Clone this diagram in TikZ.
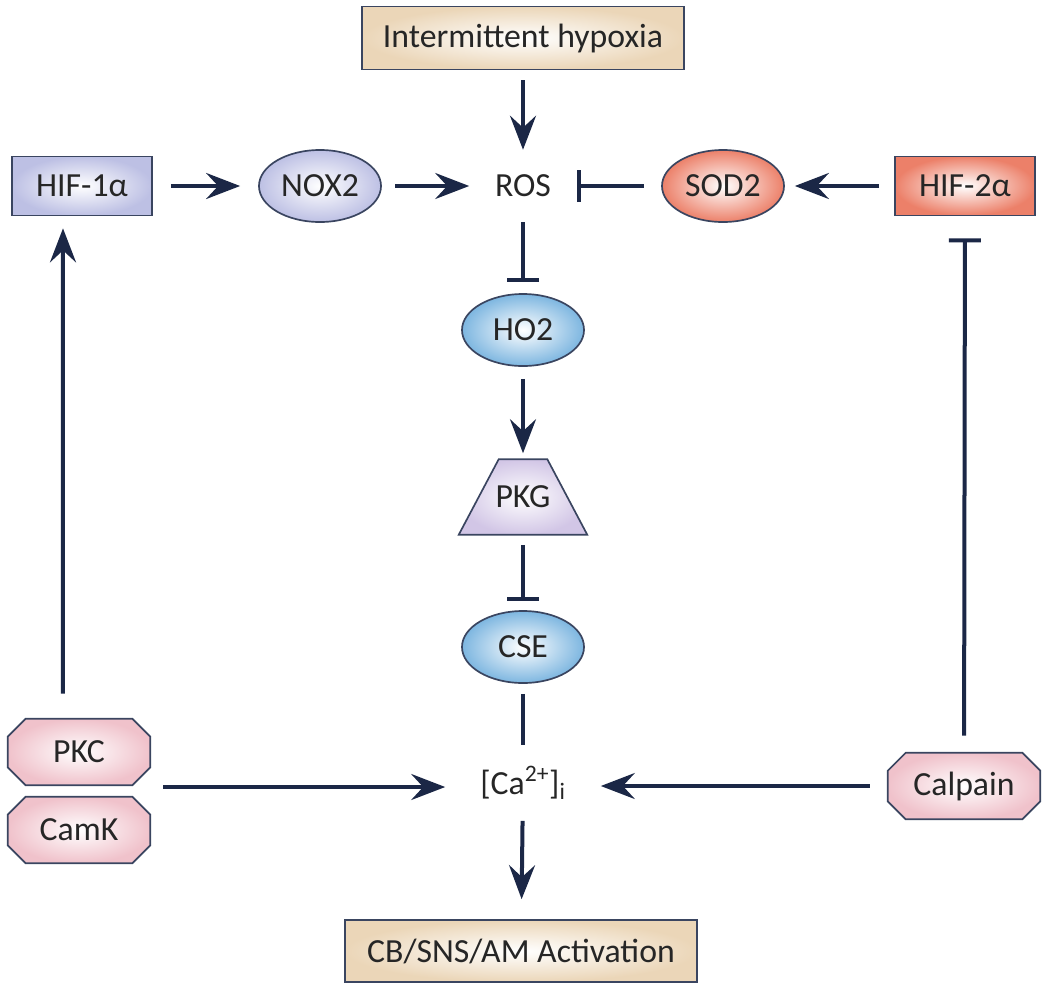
\documentclass[tikz,border=0pt]{standalone}
\usepackage{fontspec}
\setmainfont{Carlito}
\usetikzlibrary{arrows.meta,shapes.geometric}
\pgfdeclarelayer{background}
\pgfsetlayers{background,main}
\definecolor{navy}{HTML}{1B2746}
\definecolor{edge}{HTML}{3A4560}
\definecolor{tanC}{HTML}{EBD6B8}
\definecolor{hifB}{HTML}{BDC0E4}
\definecolor{salmon}{HTML}{EC8069}
\definecolor{skyB}{HTML}{7DB6E0}
\definecolor{lilac}{HTML}{D2C6E6}
\definecolor{pinkC}{HTML}{F0C2CB}
\tikzset{
  base/.style  = { draw=edge, line width=1.2pt, inner sep=0pt, text=black!85,
                   font=\fontsize{24}{28}\selectfont },
  tanbox/.style = { base, rectangle, inner color=white, outer color=tanC },
  box/.style   = { base, rectangle, minimum width=3.5cm, minimum height=1.475cm },
  oval/.style  = { base, ellipse, minimum width=3.05cm, minimum height=1.8cm },
  plain/.style = { inner sep=0pt, text=black!85, font=\fontsize{24}{28}\selectfont },
  octa/.style  = { plain, minimum width=3.55cm, minimum height=1.65cm },
  shapefill/.style = { draw=edge, line width=1.2pt, inner color=white, outer color=#1 },
  link/.style  = { draw=navy, line width=0.1cm },
  act/.style   = { link, -{Stealth[length=0.85cm,width=0.65cm,inset=0.3cm]} },
  inh/.style   = { link, -{Bar[width=0.8cm]} }
}
\begin{document}
\begin{tikzpicture}[x=0.025cm,y=-0.025cm]
  \useasboundingbox (0,0) rectangle (1050,994);

  % top and bottom
  \node[tanbox, minimum width=8.05cm, minimum height=1.575cm] (hyp) at (523,38) {Intermittent hypoxia};
  \node[tanbox, minimum width=8.8cm, minimum height=1.55cm] (out) at (521,951) {CB/SNS/AM Activation};

  % upper row
  \node[box, inner color=white, outer color=hifB] (hif1) at (82,186) {HIF-1α};
  \node[oval, inner color=white, outer color=hifB] (nox) at (320,186) {NOX2};
  \node[plain, minimum width=2.675cm, minimum height=1.8cm] (ros) at (523,186) {ROS};
  \node[oval, inner color=white, outer color=salmon] (sod) at (723,186) {SOD2};
  \node[box, inner color=white, outer color=salmon] (hif2) at (965,186) {HIF-2α};

  % middle column
  \node[oval, inner color=white, outer color=skyB] (ho2) at (523,330) {HO2};
  \node[plain, minimum width=3.2cm, minimum height=1.875cm] (pkg) at (523,497) {PKG};
  \node[oval, inner color=white, outer color=skyB] (cse) at (523,647) {CSE};
  \node[plain, minimum width=3.875cm, minimum height=1.875cm] (ca) at (523,783)
        {[Ca\textsuperscript{2+}]\textsubscript{i}};

  % lower row
  \node[octa] (pkc) at (79,752) {PKC};
  \node[octa] (camk) at (79,830) {CamK};
  \node[octa, minimum width=3.8cm] (calp) at (964,786) {Calpain};
  \coordinate (kin) at (163,787);

  % shapes behind the text
  \begin{pgfonlayer}{background}
    \path[shapefill=lilac] (pkg.south west) -- ([xshift=1cm]pkg.north west)
      -- ([xshift=-1cm]pkg.north east) -- (pkg.south east) -- cycle;
    \foreach \n in {pkc,camk,calp}
      \path[shapefill=pinkC] ([xshift=0.45cm]\n.north west) -- ([xshift=-0.45cm]\n.north east)
        -- ([yshift=-0.45cm]\n.north east) -- ([yshift=0.45cm]\n.south east)
        -- ([xshift=-0.45cm]\n.south east) -- ([xshift=0.45cm]\n.south west)
        -- ([yshift=0.45cm]\n.south west) -- ([yshift=-0.45cm]\n.north west) -- cycle;
  \end{pgfonlayer}

  % connectors
  \draw[act, shorten <=0.25cm] (hyp) -- (ros);
  \draw[act, shorten <=0.45cm, shorten >=0.45cm] (hif1) -- (nox);
  \draw[act, shorten <=0.33cm] (nox) -- (ros);
  \draw[inh, shorten <=0.43cm] (sod) -- (ros);
  \draw[act, shorten <=0.375cm, shorten >=0.25cm] (hif2) -- (sod);
  \draw[inh, shorten >=0.275cm] (ros) -- (ho2);
  \draw[act, shorten <=0.3cm, shorten >=0.15cm] (ho2) -- (pkg);
  \draw[inh, shorten <=0.25cm, shorten >=0.225cm] (pkg) -- (cse);
  \draw[link, shorten <=0.25cm] (cse) -- (ca);
  \draw[act, shorten >=0.5cm] (ca) -- (out);
  \draw[act] (kin) -- (ca.west |- kin);
  \draw[act, shorten <=0.45cm] (calp) -- (ca.east |- calp);
  \draw[act, shorten <=0.625cm, shorten >=0.3cm] ([xshift=-0.4cm]pkc.north) -- ([xshift=-0.475cm]hif1.south);
  \draw[inh, shorten <=0.425cm, shorten >=0.55cm] (calp) -- (hif2);
\end{tikzpicture}
\end{document}
